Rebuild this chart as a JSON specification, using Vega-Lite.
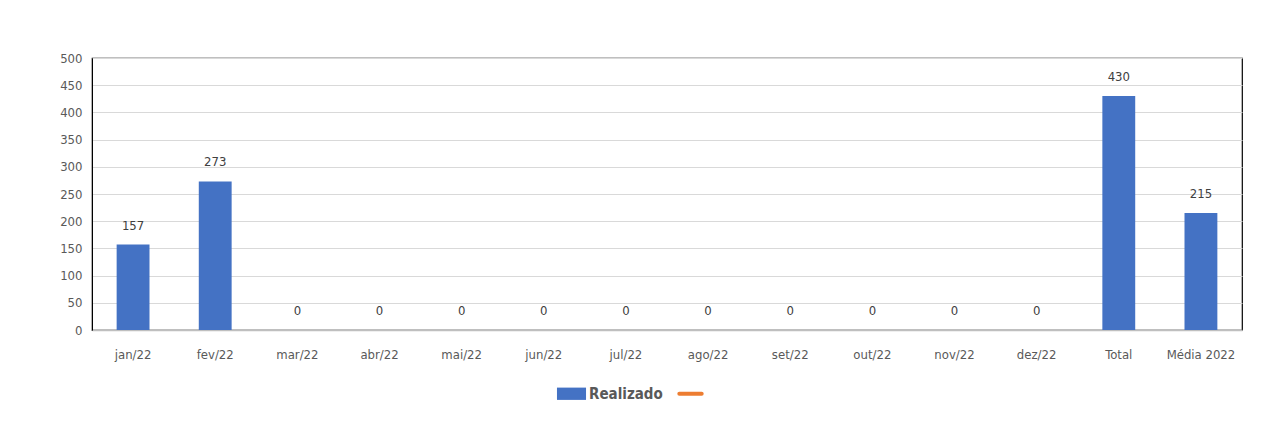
{
  "$schema": "https://vega.github.io/schema/vega-lite/v6.json",
  "width": 1150,
  "height": 272,
  "autosize": "none",
  "padding": {"left": 92, "top": 58, "right": 19, "bottom": 100},
  "background": "white",
  "config": {
    "font": "DejaVu Sans Condensed, Liberation Sans, sans-serif",
    "view": {"stroke": "#000000", "strokeWidth": 1.2},
    "axis": {"labelFont": "DejaVu Sans Condensed, Liberation Sans, sans-serif", "labelColor": "#595959", "labelFontSize": 13}
  },
  "data": {
    "values": [
      {"mes": "jan/22", "valor": 157, "serie": "Realizado"},
      {"mes": "fev/22", "valor": 273, "serie": "Realizado"},
      {"mes": "mar/22", "valor": 0, "serie": "Realizado"},
      {"mes": "abr/22", "valor": 0, "serie": "Realizado"},
      {"mes": "mai/22", "valor": 0, "serie": "Realizado"},
      {"mes": "jun/22", "valor": 0, "serie": "Realizado"},
      {"mes": "jul/22", "valor": 0, "serie": "Realizado"},
      {"mes": "ago/22", "valor": 0, "serie": "Realizado"},
      {"mes": "set/22", "valor": 0, "serie": "Realizado"},
      {"mes": "out/22", "valor": 0, "serie": "Realizado"},
      {"mes": "nov/22", "valor": 0, "serie": "Realizado"},
      {"mes": "dez/22", "valor": 0, "serie": "Realizado"},
      {"mes": "Total", "valor": 430, "serie": "Realizado"},
      {"mes": "Média 2022", "valor": 215, "serie": "Realizado"}
    ]
  },
  "encoding": {
    "x": {
      "field": "mes", "type": "nominal", "sort": null,
      "scale": {"paddingInner": 0.6, "paddingOuter": 0.3},
      "axis": {"title": null, "labelAngle": 0, "ticks": false, "domainColor": "#bfbfbf", "domainWidth": 1.5, "labelPadding": 18}
    },
    "y": {
      "field": "valor", "type": "quantitative",
      "scale": {"domain": [0, 500]},
      "axis": {"title": null, "values": [0,50,100,150,200,250,300,350,400,450,500], "ticks": false, "domainColor": "#000000", "gridColor": "#d9d9d9", "labelPadding": 10}
    }
  },
  "layer": [
    {
      "mark": {"type": "bar", "color": "#4472c4"},
      "encoding": {
        "color": {
          "field": "serie", "type": "nominal",
          "scale": {"domain": ["Realizado", " "], "range": ["#4472c4", "#ed7d31"]},
          "legend": {
            "title": null, "orient": "none", "legendX": 466, "legendY": 322, "direction": "horizontal",
            "labelFont": "DejaVu Sans Condensed, Liberation Sans, sans-serif", "labelFontSize": 15, "labelFontWeight": "bold", "labelColor": "#595959",
            "symbolSize": 500, "symbolStrokeWidth": 4, "columnPadding": 8,
            "encode": {
              "symbols": {
                "update": {
                  "shape": {"signal": "datum.value == 'Realizado' ? 'M-1.3,-0.55H1.3V0.55H-1.3Z' : 'stroke'"},
                  "stroke": {"signal": "datum.value == 'Realizado' ? null : '#ed7d31'"},
                  "strokeWidth": {"value": 4},
                  "strokeCap": {"value": "round"}
                }
              }
            }
          }
        }
      }
    },
    {
      "mark": {"type": "text", "baseline": "bottom", "dy": -12, "fontSize": 13, "color": "#404040", "font": "DejaVu Sans Condensed, Liberation Sans, sans-serif"},
      "encoding": {"text": {"field": "valor", "type": "quantitative"}}
    }
  ]
}
